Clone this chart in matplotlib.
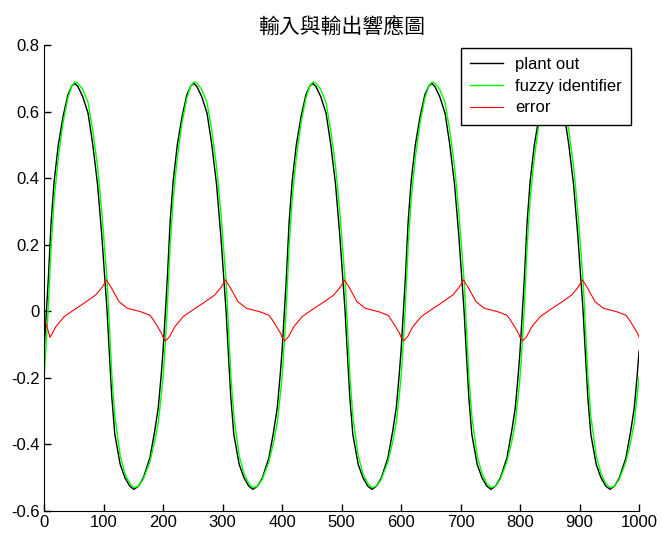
import numpy as np
import matplotlib
matplotlib.use("Agg")
import matplotlib.pyplot as plt

plt.rcParams['font.family'] = ['Liberation Sans', 'Noto Sans CJK TC', 'DejaVu Sans']

# one cycle (period 200 samples), repeated 5 times
period = 200
n_cycles = 5
cycle_x = [0, 1, 4, 7, 12, 17, 24, 32, 40, 47, 52, 57, 65, 74, 82, 90, 97, 102,
           106, 109, 114, 119, 128, 136, 144, 151, 159, 167, 178, 186, 192, 197]
plant_cycle = [-0.12, -0.09, 0.0, 0.09, 0.27, 0.39, 0.50, 0.585, 0.65, 0.678, 0.684,
               0.675, 0.645, 0.595, 0.50, 0.38, 0.23, 0.10, 0.0, -0.10, -0.26, -0.37,
               -0.46, -0.50, -0.525, -0.535, -0.525, -0.50, -0.44, -0.36, -0.29, -0.19]
fuzzy_cycle = [-0.198, -0.175, -0.089, 0.005, 0.197, 0.334, 0.462, 0.566, 0.640, 0.678,
               0.689, 0.685, 0.667, 0.627, 0.542, 0.435, 0.301, 0.185, 0.093, -0.015,
               -0.192, -0.315, -0.434, -0.487, -0.517, -0.530, -0.525, -0.504, -0.452,
               -0.392, -0.335, -0.253]

err_x = [0, 4.5, 11, 20, 34, 50, 67, 87, 98, 105, 114, 126, 140, 162, 178, 183,
         189, 194, 197.5]
err_cycle = [-0.078, -0.089, -0.076, -0.046, -0.016, 0.004, 0.024, 0.049, 0.073, 0.094,
             0.068, 0.029, 0.009, -0.001, -0.012, -0.024, -0.041, -0.056, -0.066]
# start-up of the error trace (first few samples differ)
err_start_x = [0, 4, 10]
err_start = [-0.02, -0.04, -0.078]

title = "輸入與輸出響應圖"
labels = ["plant out", "fuzzy identifier", "error"]

offsets = np.arange(n_cycles) * period
px = np.concatenate([np.array(cycle_x) + o for o in offsets] + [[n_cycles * period]])
plant = np.concatenate([plant_cycle] * n_cycles + [[plant_cycle[0]]])
fuzzy = np.concatenate([fuzzy_cycle] * n_cycles + [[fuzzy_cycle[0]]])
ex = np.concatenate([np.array(err_x) + o for o in offsets] + [[n_cycles * period]])
err = np.concatenate([err_cycle] * n_cycles + [[err_cycle[0]]])
keep = ex > err_start_x[-1]
ex = np.concatenate([err_start_x, ex[keep]])
err = np.concatenate([err_start, err[keep]])

fig = plt.figure(figsize=(6.62, 5.40), dpi=100)
ax = fig.add_axes([0.0665, 0.0537, 0.8988, 0.863])

ax.plot(px, plant, color="black", lw=1.0, label=labels[0])
ax.plot(px, fuzzy, color="#00ff00", lw=1.0, label=labels[1])
ax.plot(ex, err, color="red", lw=0.8, label=labels[2])

ax.set_xlim(0, 1000)
ax.set_ylim(-0.6, 0.8)
ax.set_xticks(np.arange(0, 1001, 100))
ax.set_yticks(np.arange(-0.6, 0.81, 0.2))
ax.set_yticklabels(["-0.6", "-0.4", "-0.2", "0", "0.2", "0.4", "0.6", "0.8"])
ax.tick_params(direction="in", length=5, labelsize=12, width=1, pad=3)
ax.spines["top"].set_visible(False)
ax.spines["right"].set_visible(False)

ax.set_title(title, fontsize=15, family=['Noto Sans CJK TC', 'DejaVu Sans'], pad=9)

leg = ax.legend(loc="upper right", bbox_to_anchor=(0.9866, 0.9936), borderaxespad=0,
                fontsize=12, fancybox=False, framealpha=1, edgecolor="black",
                handlelength=2.0, handletextpad=0.7, labelspacing=0.4, borderpad=0.55)
leg.get_frame().set_linewidth(1.0)

fig.savefig("out.png", dpi=100)
